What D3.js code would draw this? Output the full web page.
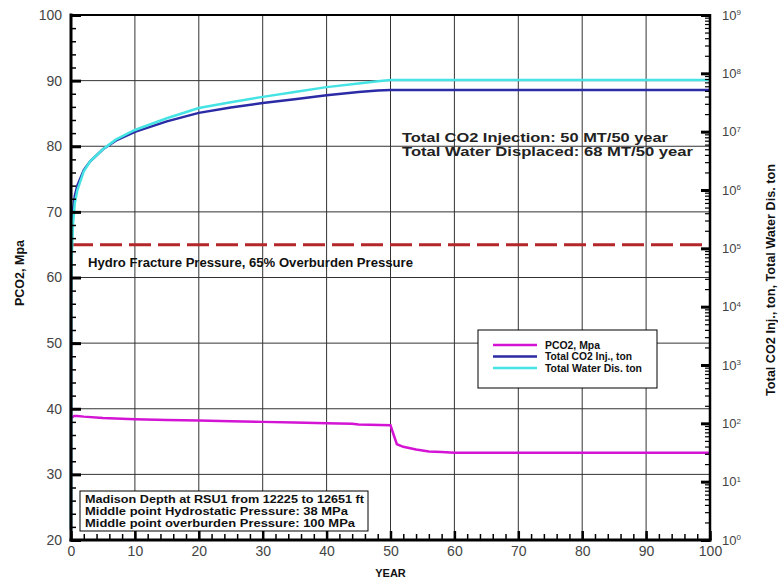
<!DOCTYPE html>
<html>
<head>
<meta charset="utf-8">
<script src="https://cdn.jsdelivr.net/npm/d3@7"></script>
<style>
  body { margin: 0; background: #fff; }
  text { font-family: "Liberation Sans", Arial, sans-serif; }
</style>
</head>
<body>
<div id="chart"></div>
<script>
// chart data
var pco2Year = [0, 0.5, 1, 2, 5, 10, 15, 20, 25, 30, 35, 40, 44, 45, 50, 50.5, 51, 52, 54, 56, 58, 60, 70, 80, 90, 100];
var pco2Mpa  = [38.6, 38.9, 38.9, 38.8, 38.6, 38.4, 38.3, 38.2, 38.1, 38.0, 37.9, 37.8, 37.7, 37.6, 37.5, 36.0, 34.6, 34.2, 33.8, 33.5, 33.4, 33.3, 33.3, 33.3, 33.3, 33.3];

var injYear = [0, 0.02, 0.05, 0.1, 0.3, 0.6, 1, 2, 3, 5, 7, 10, 15, 20, 25, 30, 35, 40, 45, 48, 50, 60, 70, 80, 90, 100];
var injTon  = [1.5, 2.5e4, 6e4, 1.3e5, 4.5e5, 8e5, 1.2e6, 2.2e6, 3.1e6, 5e6, 7e6, 9.9e6, 1.5e7, 2.1e7, 2.6e7, 3.1e7, 3.6e7, 4.2e7, 4.8e7, 5.1e7, 5.2e7, 5.2e7, 5.2e7, 5.2e7, 5.2e7, 5.2e7];

var watYear = [0, 0.02, 0.05, 0.1, 0.3, 0.6, 1, 2, 3, 5, 7, 10, 15, 20, 25, 30, 35, 40, 45, 48, 50, 60, 70, 80, 90, 100];
var watTon  = [1.5, 1.2e4, 3e4, 6e4, 2.5e5, 6e5, 1.0e6, 2.1e6, 3.1e6, 5.0e6, 7.3e6, 1.07e7, 1.7e7, 2.55e7, 3.2e7, 3.95e7, 4.8e7, 5.8e7, 6.7e7, 7.3e7, 7.7e7, 7.7e7, 7.7e7, 7.7e7, 7.7e7, 7.7e7];

var fracPressure = 65;   // hydro fracture pressure, MPa

var seriesNames = ["PCO2, Mpa", "Total CO2 Inj., ton", "Total Water Dis. ton"];
var seriesColors = ["#d414d4", "#2b2ba6", "#45e3e3"];

var noteLines = ["Madison Depth at RSU1 from 12225 to 12651 ft",
                 "Middle point Hydrostatic Pressure: 38 MPa",
                 "Middle point overburden Pressure: 100 MPa"];
var totalLines = ["Total CO2 Injection: 50 MT/50 year",
                  "Total Water Displaced: 68 MT/50 year"];

// sizes
var margin = { top: 15, right: 68, bottom: 41, left: 71 },
    width = 778 - margin.left - margin.right,
    height = 581 - margin.top - margin.bottom;

var svg = d3.select("#chart")
    .append("svg")
    .attr("width", 778)
    .attr("height", 581)
    .append("g")
    .attr("transform", "translate(" + margin.left + "," + margin.top + ")");

var x = d3.scaleLinear().domain([0, 100]).range([0, width]);
var yL = d3.scaleLinear().domain([20, 100]).range([height, 0]);
var yR = d3.scaleLog().domain([1, 1e9]).range([height, 0]);

// grid
svg.append("g").selectAll("line")
    .data(d3.range(10, 100, 10))
    .enter().append("line")
    .attr("x1", function(d) { return x(d); })
    .attr("x2", function(d) { return x(d); })
    .attr("y1", 0).attr("y2", height)
    .style("stroke", "#333").style("stroke-width", 1);

svg.append("g").selectAll("line")
    .data(d3.range(30, 100, 10))
    .enter().append("line")
    .attr("y1", function(d) { return yL(d); })
    .attr("y2", function(d) { return yL(d); })
    .attr("x1", 0).attr("x2", width)
    .style("stroke", "#333").style("stroke-width", 1);

// fracture pressure line
svg.append("line")
    .attr("x1", 0).attr("x2", width)
    .attr("y1", yL(fracPressure)).attr("y2", yL(fracPressure))
    .style("stroke", "#b3262a")
    .style("stroke-width", 3)
    .style("stroke-dasharray", "22,7");

svg.append("text")
    .attr("x", 17).attr("y", 252)
    .attr("textLength", 325).attr("lengthAdjust", "spacingAndGlyphs")
    .style("font-size", "12px").style("font-weight", "bold")
    .style("fill", "#111")
    .text("Hydro Fracture Pressure, 65% Overburden Pressure");

// series lines
var lineL = d3.line().x(function(d) { return x(d[0]); }).y(function(d) { return yL(d[1]); });
var lineR = d3.line().x(function(d) { return x(d[0]); }).y(function(d) { return yR(d[1]); });

svg.append("path")
    .attr("d", lineL(d3.zip(pco2Year, pco2Mpa)))
    .style("fill", "none").style("stroke", seriesColors[0]).style("stroke-width", 2.5);

svg.append("path")
    .attr("d", lineR(d3.zip(injYear, injTon)))
    .style("fill", "none").style("stroke", seriesColors[1]).style("stroke-width", 2.5);

svg.append("path")
    .attr("d", lineR(d3.zip(watYear, watTon)))
    .style("fill", "none").style("stroke", seriesColors[2]).style("stroke-width", 2.5);

// totals text
svg.selectAll("totals")
    .data(totalLines)
    .enter().append("text")
    .attr("x", 331)
    .attr("y", function(d, i) { return 127 + i * 14; })
    .attr("textLength", function(d, i) { return i == 0 ? 266 : 291; })
    .attr("lengthAdjust", "spacingAndGlyphs")
    .style("font-size", "13px").style("font-weight", "bold")
    .style("fill", "#222")
    .text(function(d) { return d; });

// legend
var legend = svg.append("g").attr("transform", "translate(407,315)");
legend.append("rect")
    .attr("width", 179).attr("height", 58)
    .style("fill", "#fff").style("stroke", "#000").style("stroke-width", 1);

var legendW = [55, 87, 97];
seriesNames.forEach(function(name, i) {
    legend.append("line")
        .attr("x1", 15).attr("x2", 59)
        .attr("y1", 15 + i * 11.5).attr("y2", 15 + i * 11.5)
        .style("stroke", seriesColors[i]).style("stroke-width", 2.5);
    legend.append("text")
        .attr("x", 67).attr("y", 18.5 + i * 11.5)
        .attr("textLength", legendW[i]).attr("lengthAdjust", "spacingAndGlyphs")
        .style("font-size", "10px").style("font-weight", "bold")
        .style("fill", "#111")
        .text(name);
});

// note box
var note = svg.append("g").attr("transform", "translate(9,476)");
note.append("rect")
    .attr("width", 288).attr("height", 40)
    .style("fill", "#fff").style("stroke", "#000").style("stroke-width", 1);
note.selectAll("text")
    .data(noteLines)
    .enter().append("text")
    .attr("x", 5)
    .attr("y", function(d, i) { return 12 + i * 12; })
    .attr("textLength", function(d, i) { return [279, 263, 270][i]; })
    .attr("lengthAdjust", "spacingAndGlyphs")
    .style("font-size", "11px").style("font-weight", "bold")
    .style("fill", "#111")
    .text(function(d) { return d; });

// axes
function styleAxis(g, size) {
    g.select(".domain").remove();
    g.selectAll(".tick line").style("stroke", "#000").style("stroke-width", 2);
    g.selectAll(".tick text")
        .style("font-size", size + "px")
        .style("font-family", "'Liberation Sans', Arial, sans-serif")
        .style("fill", "#444");
}

// left
svg.append("g")
    .call(d3.axisLeft(yL).tickValues(d3.range(20, 101, 2)).tickSizeInner(-5).tickSizeOuter(0).tickFormat(""))
    .call(function(g) { styleAxis(g, 13); g.selectAll(".tick line").style("stroke-width", 1.5); });
svg.append("g")
    .call(d3.axisLeft(yL).tickValues(d3.range(20, 101, 10)).tickSizeInner(-10).tickSizeOuter(0).tickPadding(9))
    .call(function(g) { styleAxis(g, 14); g.selectAll(".tick line").style("stroke-width", 3); });

// bottom
svg.append("g")
    .attr("transform", "translate(0," + height + ")")
    .call(d3.axisBottom(x).tickValues(d3.range(0, 101, 2)).tickSizeInner(-6).tickSizeOuter(0).tickFormat(""))
    .call(function(g) { styleAxis(g, 13); g.selectAll(".tick line").style("stroke-width", 1.5); });
svg.append("g")
    .attr("transform", "translate(0," + height + ")")
    .call(d3.axisBottom(x).tickValues(d3.range(0, 101, 10)).tickSizeInner(-9).tickSizeOuter(0).tickPadding(6))
    .call(function(g) { styleAxis(g, 14); g.selectAll(".tick line").style("stroke-width", 2.5); });

// right (log)
var minorR = [];
for (var e = 0; e < 9; e++) {
    for (var m = 2; m < 10; m++) minorR.push(m * Math.pow(10, e));
}
var decades = d3.range(0, 10).map(function(e) { return Math.pow(10, e); });

svg.append("g")
    .attr("transform", "translate(" + width + ",0)")
    .call(d3.axisRight(yR).tickValues(minorR).tickSizeInner(-5).tickSizeOuter(0).tickFormat(""))
    .call(function(g) { styleAxis(g, 13); g.selectAll(".tick line").style("stroke-width", 1.2); });
svg.append("g")
    .attr("transform", "translate(" + width + ",0)")
    .call(d3.axisRight(yR).tickValues(decades).tickSizeInner(-9).tickSizeOuter(0).tickPadding(12).tickFormat(function() { return "10"; }))
    .call(function(g) {
        styleAxis(g, 13);
        g.selectAll(".tick line").style("stroke-width", 3);
        g.selectAll(".tick text").append("tspan")
            .attr("dy", "-0.55em")
            .style("font-size", "8px")
            .text(function(d) { return Math.round(Math.log10(d)); });
    });

// frame
svg.append("line").attr("x1", 0).attr("x2", 0).attr("y1", -1.5).attr("y2", height + 1.5)
    .style("stroke", "#000").style("stroke-width", 3);
svg.append("line").attr("x1", -1.5).attr("x2", width + 1.5).attr("y1", height).attr("y2", height)
    .style("stroke", "#000").style("stroke-width", 3);
svg.append("line").attr("x1", width).attr("x2", width).attr("y1", -1).attr("y2", height + 1.5)
    .style("stroke", "#000").style("stroke-width", 2.5);
svg.append("line").attr("x1", 0).attr("x2", width).attr("y1", 0).attr("y2", 0)
    .style("stroke", "#000").style("stroke-width", 2);

// axis titles
svg.append("text")
    .attr("transform", "translate(-47," + 258 + ") rotate(-90)")
    .style("text-anchor", "middle")
    .style("font-size", "12.5px").style("font-weight", "bold")
    .style("fill", "#111")
    .text("PCO2, Mpa");

svg.append("text")
    .attr("transform", "translate(" + (width + 65) + "," + 265 + ") rotate(-90)")
    .attr("textLength", 232).attr("lengthAdjust", "spacingAndGlyphs")
    .style("text-anchor", "middle")
    .style("font-size", "12px").style("font-weight", "bold")
    .style("fill", "#111")
    .text("Total CO2 Inj., ton, Total Water Dis. ton");

svg.append("text")
    .attr("x", x(50)).attr("y", height + 37)
    .style("text-anchor", "middle")
    .style("font-size", "11px").style("font-weight", "bold")
    .style("fill", "#111")
    .text("YEAR");
</script>
</body>
</html>
